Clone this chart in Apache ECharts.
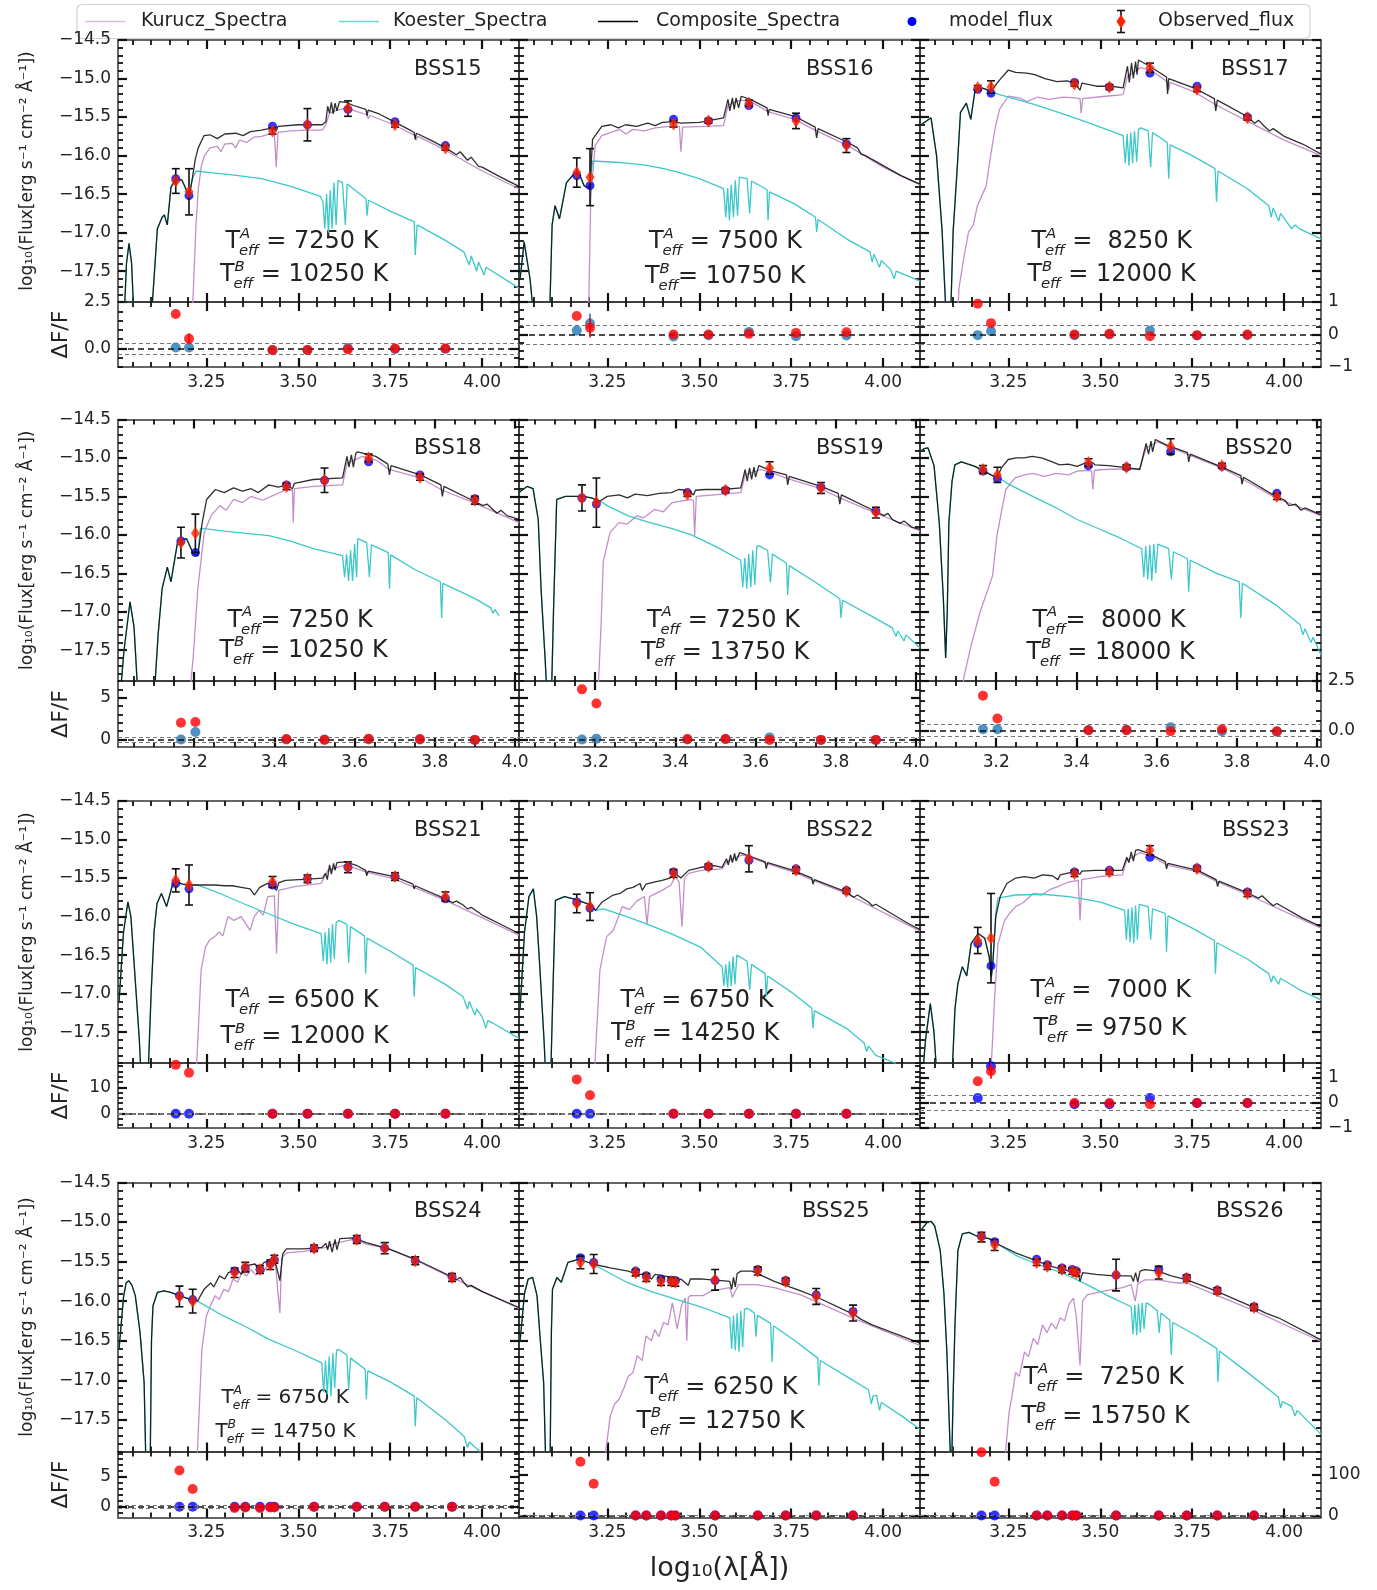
<!DOCTYPE html>
<html><head><meta charset="utf-8">
<script src="https://cdn.jsdelivr.net/npm/echarts@6/dist/echarts.min.js"></script>
<style>html,body{margin:0;padding:0;background:#fff}#c{width:1377px;height:1590px}</style>
</head><body><div id="c"></div>
<script>
// ---------------- DATA ----------------
const starNames = ['BSS15','BSS16','BSS17','BSS18','BSS19','BSS20','BSS21','BSS22','BSS23','BSS24','BSS25','BSS26'];
const teffAText = [' = 7250 K',' = 7500 K',' =  8250 K','= 7250 K',' = 7250 K','=  8000 K',' = 6500 K',' = 6750 K',' =  7000 K',' = 6750 K',' = 6250 K',' =  7250 K'];
const teffBText = [' = 10250 K','= 10750 K',' = 12000 K',' = 10250 K',' = 13750 K',' = 18000 K',' = 12000 K',' = 14250 K',' = 9750 K',' = 14750 K',' = 12750 K',' = 15750 K'];
const legendNames = ['Kurucz_Spectra','Koester_Spectra','Composite_Spectra','model_flux','Observed_flux'];

const filtA = [3.167,3.203,3.43,3.525,3.635,3.763,3.9];
const filtB = [3.177,3.213,3.327,3.356,3.396,3.424,3.435,3.543,3.659,3.735,3.818,3.918];

const xMajorA = [3.25,3.5,3.75,4.0];
const xMajorB = [3.2,3.4,3.6,3.8,4.0];
const yMajorMain = [-17.5,-17.0,-16.5,-16.0,-15.5,-15.0,-14.5];

const residRange = [[-1,2.5],[-1,1],[-1,1],[-0.9,7],[-0.9,7],[-0.85,2.5],[-5.4,19.2],[-5.4,19.2],[-1,1.6],[-1.8,9.3],[-5,157],[-5,157]];
const residMajor = [[0,2.5],[-1,0,1],[-1,0,1],[0,5],[0,5],[0,2.5],[0,10],[0,10],[-1,0,1],[0,5],[0,100],[0,100]];
const residMinorStep = [0.5,0.25,0.25,1,1,0.5,2,2,0.2,1,20,20];
const residDecimals = [1,0,0,0,0,1,0,0,0,0,0,0];
const refLevels = [0, 0.3, -0.3];

// ---- BSS15
const uv15 = [[3.025,-18.3],[3.033,-17.4],[3.04,-17.14],[3.047,-17.4],[3.055,-18.3],[3.098,-18.3],[3.117,-16.95],[3.13,-16.8],[3.136,-16.77],[3.144,-16.9],[3.154,-16.41],[3.168,-16.3],[3.184,-16.32],[3.196,-16.45],[3.204,-16.52],[3.212,-16.3]];
const kur15 = [[3.21,-18.3],[3.222,-16.9],[3.228,-16.45],[3.236,-16.15],[3.245,-16.0],[3.26,-15.9],[3.28,-15.88],[3.29,-15.95],[3.30,-15.85],[3.32,-15.84],[3.33,-15.9],[3.34,-15.8],[3.36,-15.83],[3.38,-15.76],[3.40,-15.75],[3.42,-15.72],[3.435,-15.7],[3.44,-16.15],[3.445,-15.7],[3.48,-15.68],[3.52,-15.67],[3.565,-15.67],[3.575,-15.6],[3.585,-15.45],[3.60,-15.42],[3.63,-15.38],[3.66,-15.43],[3.687,-15.47],[3.69,-15.52],[3.695,-15.48],[3.76,-15.6],[3.817,-15.74],[3.82,-15.8],[3.825,-15.75],[3.9,-15.93],[4.0,-16.2],[4.1,-16.43]];
const koe15 = uv15.concat([[3.222,-16.2],[3.26,-16.22],[3.32,-16.25],[3.40,-16.3],[3.48,-16.4],[3.56,-16.53],[3.567,-16.6],[3.572,-16.95],[3.577,-16.5],[3.582,-17.0],[3.587,-16.45],[3.592,-16.95],[3.597,-16.35],[3.603,-16.9],[3.608,-16.32],[3.62,-16.35],[3.628,-16.9],[3.633,-16.37],[3.66,-16.47],[3.684,-16.56],[3.687,-16.78],[3.691,-16.58],[3.75,-16.72],[3.815,-16.86],[3.818,-17.29],[3.823,-16.9],[3.9,-17.1],[3.95,-17.25],[3.965,-17.42],[3.97,-17.3],[3.985,-17.5],[3.99,-17.38],[4.005,-17.55],[4.01,-17.45],[4.1,-17.72]]);
const comp15 = uv15.concat([[3.22,-16.05],[3.228,-15.9],[3.244,-15.74],[3.26,-15.73],[3.28,-15.78],[3.30,-15.72],[3.33,-15.71],[3.35,-15.74],[3.37,-15.69],[3.40,-15.67],[3.43,-15.64],[3.44,-15.68],[3.445,-15.62],[3.50,-15.6],[3.565,-15.6],[3.575,-15.56],[3.58,-15.36],[3.585,-15.45],[3.59,-15.31],[3.595,-15.46],[3.60,-15.32],[3.605,-15.42],[3.612,-15.3],[3.63,-15.31],[3.65,-15.35],[3.684,-15.4],[3.687,-15.48],[3.69,-15.41],[3.72,-15.46],[3.76,-15.56],[3.80,-15.66],[3.815,-15.7],[3.818,-15.79],[3.821,-15.71],[3.86,-15.8],[3.9,-15.9],[3.93,-15.99],[3.94,-15.95],[3.96,-16.06],[3.97,-16.02],[3.99,-16.14],[4.0,-16.15],[4.05,-16.28],[4.1,-16.4]]);
const obs15 = [-16.33,-16.47,-15.68,-15.6,-15.39,-15.6,-15.9];
const err15 = [0.16,0.3,0.04,0.21,0.1,0.03,0.03];
const mod15 = [-16.3,-16.52,-15.62,-15.6,-15.4,-15.56,-15.87];
const res15 = [1.85,0.52,-0.08,-0.08,-0.05,0,0];
const resm15 = [0.05,0.05,-0.1,-0.08,0.02,-0.03,-0.02];
const rerr15 = [0,0.3,0,0,0,0,0];
const rerrm15 = [0,0,0,0,0,0,0];

// ---- BSS16
const uv16 = [[3.013,-17.6],[3.024,-17.12],[3.04,-17.6],[3.054,-18.3],[3.092,-18.3],[3.1,-16.9],[3.108,-16.65],[3.12,-16.82],[3.139,-16.35],[3.163,-16.22],[3.175,-16.25],[3.187,-16.39],[3.197,-16.42],[3.203,-16.38]];
const kur16 = [[3.198,-18.3],[3.205,-16.56],[3.217,-15.87],[3.235,-15.74],[3.26,-15.7],[3.284,-15.66],[3.30,-15.72],[3.32,-15.66],[3.35,-15.68],[3.38,-15.64],[3.42,-15.62],[3.446,-15.62],[3.45,-15.95],[3.455,-15.63],[3.518,-15.62],[3.566,-15.61],[3.578,-15.35],[3.60,-15.3],[3.614,-15.28],[3.64,-15.3],[3.687,-15.43],[3.759,-15.53],[3.819,-15.68],[3.904,-15.87],[4.0,-16.15],[4.1,-16.38]];
const koe16 = uv16.concat([[3.21,-16.07],[3.284,-16.09],[3.35,-16.12],[3.404,-16.17],[3.446,-16.22],[3.50,-16.3],[3.566,-16.43],[3.572,-16.8],[3.577,-16.42],[3.582,-16.84],[3.587,-16.38],[3.593,-16.8],[3.598,-16.32],[3.604,-16.78],[3.609,-16.28],[3.614,-16.26],[3.63,-16.3],[3.637,-16.75],[3.642,-16.33],[3.684,-16.44],[3.687,-16.84],[3.691,-16.47],[3.76,-16.63],[3.816,-16.8],[3.819,-16.99],[3.823,-16.83],[3.90,-17.08],[3.964,-17.25],[3.97,-17.38],[3.975,-17.28],[3.99,-17.45],[3.995,-17.36],[4.02,-17.48],[4.03,-17.6],[4.035,-17.5],[4.1,-17.63]]);
const comp16 = uv16.concat([[3.21,-15.79],[3.235,-15.62],[3.26,-15.6],[3.28,-15.64],[3.30,-15.6],[3.33,-15.62],[3.36,-15.58],[3.38,-15.61],[3.40,-15.57],[3.43,-15.56],[3.45,-15.58],[3.50,-15.57],[3.566,-15.51],[3.578,-15.27],[3.583,-15.42],[3.59,-15.25],[3.595,-15.4],[3.60,-15.25],[3.607,-15.38],[3.614,-15.23],[3.639,-15.27],[3.684,-15.38],[3.687,-15.48],[3.69,-15.4],[3.759,-15.49],[3.815,-15.63],[3.819,-15.77],[3.823,-15.65],[3.904,-15.83],[3.93,-15.9],[3.94,-15.98],[3.952,-16.0],[3.97,-16.05],[4.0,-16.13],[4.048,-16.26],[4.1,-16.37]]);
const obs16 = [-16.22,-16.28,-15.59,-15.55,-15.32,-15.55,-15.87];
const err16 = [0.19,0.37,0.04,0.03,0.04,0.1,0.09];
const mod16 = [-16.26,-16.39,-15.53,-15.55,-15.35,-15.51,-15.85];
const res16 = [0.57,0.21,0,0,0.02,0.05,0.07];
const resm16 = [0.12,0.34,-0.06,-0.02,0.08,-0.05,-0.03];
const rerr16 = [0,0.3,0,0,0,0,0];
const rerrm16 = [0,0.3,0,0,0,0,0];

// ---- BSS17
const uv17 = [[3.013,-15.6],[3.04,-15.51],[3.055,-16.0],[3.07,-16.97],[3.083,-18.3],[3.092,-18.3],[3.1,-16.99],[3.112,-16.1],[3.12,-15.44],[3.136,-15.32],[3.148,-15.53],[3.16,-15.14],[3.178,-15.12],[3.19,-15.14],[3.202,-15.17]];
const kur17 = [[3.11,-18.3],[3.116,-17.72],[3.13,-17.3],[3.142,-16.99],[3.155,-16.9],[3.166,-16.65],[3.18,-16.5],[3.19,-16.39],[3.202,-16.0],[3.214,-15.65],[3.226,-15.4],[3.25,-15.23],[3.28,-15.25],[3.30,-15.3],[3.33,-15.24],[3.36,-15.27],[3.40,-15.24],[3.43,-15.25],[3.445,-15.26],[3.448,-15.45],[3.452,-15.26],[3.514,-15.23],[3.562,-15.21],[3.574,-14.97],[3.61,-14.86],[3.64,-14.9],[3.682,-15.04],[3.686,-15.15],[3.69,-15.05],[3.754,-15.17],[3.814,-15.34],[3.898,-15.55],[4.0,-15.8],[4.1,-16.0]];
const koe17 = uv17.concat([[3.226,-15.21],[3.28,-15.28],[3.322,-15.34],[3.38,-15.43],[3.442,-15.53],[3.50,-15.63],[3.562,-15.74],[3.568,-16.1],[3.573,-15.72],[3.578,-16.13],[3.583,-15.7],[3.588,-16.1],[3.593,-15.68],[3.599,-16.08],[3.604,-15.66],[3.61,-15.64],[3.63,-15.68],[3.637,-16.15],[3.642,-15.7],[3.682,-15.83],[3.686,-16.3],[3.69,-15.86],[3.75,-16.0],[3.812,-16.17],[3.816,-16.6],[3.82,-16.2],[3.9,-16.43],[3.958,-16.65],[3.965,-16.8],[3.97,-16.68],[3.985,-16.85],[3.99,-16.75],[4.01,-16.88],[4.02,-16.95],[4.03,-16.9],[4.042,-16.95],[4.1,-17.08]]);
const comp17 = uv17.concat([[3.213,-15.1],[3.226,-15.02],[3.25,-14.89],[3.27,-14.92],[3.30,-14.93],[3.322,-14.95],[3.35,-15.0],[3.382,-15.04],[3.41,-15.03],[3.43,-15.06],[3.445,-15.15],[3.45,-15.06],[3.49,-15.1],[3.53,-15.1],[3.562,-15.12],[3.574,-14.84],[3.579,-15.05],[3.585,-14.8],[3.59,-15.0],[3.596,-14.78],[3.60,-14.95],[3.604,-14.76],[3.634,-14.84],[3.68,-14.98],[3.683,-15.2],[3.686,-15.0],[3.754,-15.12],[3.81,-15.26],[3.814,-15.42],[3.818,-15.28],[3.898,-15.49],[3.92,-15.58],[3.93,-15.54],[3.946,-15.62],[3.96,-15.68],[3.97,-15.65],[4.0,-15.75],[4.05,-15.85],[4.1,-15.98]]);
const obs17 = [-15.12,-15.11,-15.07,-15.11,-14.86,-15.14,-15.51];
const err17 = [0.03,0.08,0.03,0.03,0.06,0.03,0.03];
const mod17 = [-15.14,-15.19,-15.05,-15.11,-14.93,-15.1,-15.5];
const res17 = [0.95,0.35,0,0.02,-0.05,-0.02,0];
const resm17 = [-0.02,0.1,-0.02,0,0.12,-0.03,-0.02];

// ---- BSS18
const uv18 = [[3.012,-18.3],[3.025,-17.5],[3.04,-16.87],[3.05,-17.2],[3.062,-18.3],[3.098,-18.3],[3.11,-17.3],[3.12,-16.7],[3.133,-16.42],[3.142,-16.61],[3.159,-16.08],[3.181,-16.05],[3.198,-16.25],[3.209,-16.27]];
const kur18 = [[3.185,-18.3],[3.198,-17.56],[3.209,-16.7],[3.225,-15.97],[3.242,-15.75],[3.264,-15.62],[3.28,-15.68],[3.298,-15.54],[3.32,-15.58],[3.342,-15.5],[3.37,-15.55],[3.40,-15.48],[3.431,-15.41],[3.445,-15.42],[3.447,-15.84],[3.45,-15.4],[3.497,-15.37],[3.57,-15.35],[3.581,-15.07],[3.62,-14.98],[3.655,-15.03],[3.686,-15.15],[3.764,-15.26],[3.819,-15.42],[3.897,-15.58],[4.01,-15.84]];
const koe18 = uv18.concat([[3.215,-15.92],[3.225,-15.92],[3.275,-15.95],[3.33,-15.98],[3.386,-16.01],[3.44,-16.08],[3.497,-16.18],[3.57,-16.27],[3.575,-16.55],[3.58,-16.25],[3.585,-16.6],[3.59,-16.2],[3.595,-16.6],[3.60,-16.12],[3.605,-16.55],[3.608,-16.05],[3.63,-16.1],[3.637,-16.55],[3.642,-16.13],[3.684,-16.23],[3.687,-16.7],[3.69,-16.26],[3.75,-16.45],[3.814,-16.61],[3.817,-17.08],[3.82,-16.63],[3.897,-16.82],[3.94,-16.95],[3.945,-17.02],[3.95,-16.97],[3.96,-17.05]]);
const comp18 = uv18.concat([[3.22,-15.84],[3.231,-15.54],[3.253,-15.41],[3.275,-15.45],[3.298,-15.39],[3.32,-15.43],[3.342,-15.4],[3.36,-15.45],[3.386,-15.35],[3.41,-15.38],[3.431,-15.35],[3.445,-15.4],[3.45,-15.33],[3.497,-15.28],[3.57,-15.26],[3.581,-14.98],[3.586,-15.12],[3.592,-14.96],[3.597,-15.12],[3.603,-14.94],[3.608,-14.92],[3.653,-14.98],[3.683,-15.08],[3.687,-15.22],[3.691,-15.1],[3.764,-15.22],[3.815,-15.35],[3.819,-15.5],[3.823,-15.37],[3.897,-15.56],[3.92,-15.62],[3.93,-15.6],[3.941,-15.65],[3.955,-15.72],[3.965,-15.68],[3.98,-15.75],[4.01,-15.8]]);
const obs18 = [-16.1,-15.98,-15.37,-15.29,-15.0,-15.25,-15.55];
const err18 = [0.2,0.25,0.04,0.16,0.05,0.04,0.05];
const mod18 = [-16.08,-16.23,-15.35,-15.29,-15.05,-15.22,-15.53];
const res18 = [2.0,2.1,0.05,-0.05,0.1,0.05,-0.05];
const resm18 = [0,0.9,0,0,0,0,-0.05];

// ---- BSS19
const uv19 = [[3.01,-15.45],[3.03,-15.37],[3.045,-15.4],[3.058,-15.8],[3.065,-16.7],[3.075,-17.6],[3.082,-18.3],[3.09,-18.3],[3.096,-17.0],[3.104,-15.54],[3.126,-15.5],[3.17,-15.5],[3.19,-15.52],[3.212,-15.56]];
const kur19 = [[3.205,-18.3],[3.215,-17.13],[3.22,-16.35],[3.237,-15.97],[3.259,-15.84],[3.28,-15.86],[3.304,-15.75],[3.32,-15.78],[3.348,-15.67],[3.37,-15.7],[3.392,-15.58],[3.437,-15.54],[3.445,-15.55],[3.448,-16.01],[3.452,-15.5],[3.519,-15.47],[3.563,-15.45],[3.574,-15.22],[3.613,-15.15],[3.645,-15.2],[3.68,-15.27],[3.763,-15.4],[3.81,-15.52],[3.897,-15.71],[4.01,-15.95]];
const koe19 = uv19.concat([[3.23,-15.62],[3.281,-15.75],[3.33,-15.83],[3.392,-15.92],[3.44,-16.0],[3.50,-16.15],[3.563,-16.33],[3.568,-16.68],[3.573,-16.3],[3.578,-16.7],[3.583,-16.25],[3.588,-16.68],[3.593,-16.2],[3.598,-16.65],[3.603,-16.15],[3.608,-16.14],[3.63,-16.2],[3.637,-16.62],[3.642,-16.25],[3.677,-16.37],[3.68,-16.78],[3.684,-16.4],[3.75,-16.62],[3.81,-16.83],[3.813,-17.08],[3.817,-16.85],[3.897,-17.08],[3.941,-17.21],[3.95,-17.32],[3.955,-17.25],[3.97,-17.38],[3.975,-17.3],[4.01,-17.47]]);
const comp19 = uv19.concat([[3.23,-15.5],[3.26,-15.48],[3.28,-15.52],[3.30,-15.47],[3.33,-15.49],[3.36,-15.46],[3.39,-15.45],[3.408,-15.41],[3.43,-15.42],[3.445,-15.48],[3.45,-15.42],[3.474,-15.41],[3.519,-15.41],[3.563,-15.39],[3.574,-15.15],[3.579,-15.3],[3.585,-15.13],[3.59,-15.28],[3.596,-15.12],[3.60,-15.25],[3.608,-15.1],[3.641,-15.17],[3.677,-15.22],[3.68,-15.35],[3.684,-15.24],[3.763,-15.37],[3.806,-15.46],[3.81,-15.6],[3.814,-15.48],[3.897,-15.69],[3.92,-15.75],[3.93,-15.72],[3.941,-15.8],[3.96,-15.85],[3.97,-15.82],[3.99,-15.9],[4.01,-15.93]]);
const obs19 = [-15.52,-15.58,-15.47,-15.42,-15.13,-15.39,-15.71];
const err19 = [0.17,0.32,0.03,0.03,0.08,0.07,0.07];
const mod19 = [-15.52,-15.6,-15.45,-15.42,-15.22,-15.38,-15.69];
const res19 = [6.0,4.3,0.05,0.05,-0.05,-0.05,-0.05];
const resm19 = [0,0.1,0,0.05,0.25,-0.05,-0.05];

// ---- BSS20
const uv20 = [[3.01,-14.92],[3.02,-14.88],[3.03,-14.87],[3.045,-15.1],[3.058,-15.84],[3.068,-16.8],[3.074,-17.6],[3.078,-17.0],[3.082,-15.84],[3.09,-15.3],[3.097,-15.09],[3.113,-15.05],[3.147,-15.11],[3.18,-15.2],[3.202,-15.26]];
const kur20 = [[3.115,-18.3],[3.119,-17.86],[3.136,-17.47],[3.16,-17.0],[3.18,-16.7],[3.191,-16.53],[3.202,-16.01],[3.213,-15.7],[3.224,-15.41],[3.247,-15.26],[3.27,-15.22],[3.291,-15.2],[3.32,-15.24],[3.35,-15.2],[3.38,-15.22],[3.402,-15.17],[3.43,-15.16],[3.438,-15.17],[3.441,-15.41],[3.445,-15.16],[3.469,-15.15],[3.558,-15.14],[3.574,-14.87],[3.602,-14.79],[3.63,-14.85],[3.68,-14.96],[3.763,-15.13],[3.813,-15.27],[3.897,-15.52],[4.01,-15.75]];
const koe20 = uv20.concat([[3.213,-15.28],[3.224,-15.32],[3.291,-15.5],[3.35,-15.65],[3.402,-15.8],[3.46,-15.93],[3.513,-16.05],[3.563,-16.18],[3.568,-16.55],[3.573,-16.15],[3.578,-16.58],[3.583,-16.13],[3.588,-16.6],[3.593,-16.12],[3.598,-16.5],[3.603,-16.12],[3.63,-16.18],[3.637,-16.58],[3.642,-16.22],[3.677,-16.31],[3.68,-16.74],[3.684,-16.33],[3.75,-16.5],[3.806,-16.61],[3.81,-17.08],[3.814,-16.63],[3.897,-16.91],[3.958,-17.17],[3.965,-17.3],[3.97,-17.22],[3.985,-17.4],[3.99,-17.33],[4.01,-17.56]]);
const comp20 = uv20.concat([[3.213,-15.13],[3.23,-15.02],[3.25,-15.0],[3.269,-15.0],[3.29,-14.98],[3.313,-15.0],[3.34,-15.05],[3.358,-15.09],[3.38,-15.08],[3.402,-15.11],[3.42,-15.07],[3.44,-15.06],[3.447,-15.09],[3.48,-15.1],[3.513,-15.12],[3.558,-15.15],[3.574,-14.81],[3.58,-14.95],[3.586,-14.78],[3.59,-14.92],[3.597,-14.76],[3.624,-14.83],[3.677,-14.93],[3.68,-15.05],[3.684,-14.95],[3.763,-15.12],[3.81,-15.23],[3.813,-15.34],[3.817,-15.25],[3.897,-15.5],[3.92,-15.55],[3.93,-15.62],[3.947,-15.6],[3.96,-15.68],[3.97,-15.65],[4.01,-15.74]]);
const obs20 = [-15.15,-15.22,-15.06,-15.12,-14.85,-15.1,-15.5];
const err20 = [0.05,0.1,0.05,0.03,0.1,0.03,0.04];
const mod20 = [-15.17,-15.27,-15.1,-15.12,-14.92,-15.11,-15.46];
const res20 = [1.75,0.6,0,0,-0.05,0.05,-0.05];
const resm20 = [0.05,0.05,0,0.02,0.15,-0.05,-0.08];

// ---- BSS21
const uv21 = [[3.013,-17.1],[3.025,-16.2],[3.037,-15.81],[3.045,-16.0],[3.055,-16.69],[3.068,-17.6],[3.075,-18.3],[3.09,-18.3],[3.1,-17.0],[3.108,-16.2],[3.116,-15.83],[3.128,-15.7],[3.142,-15.87],[3.158,-15.59],[3.17,-15.55],[3.185,-15.58],[3.206,-15.59],[3.224,-15.59]];
const kur21 = [[3.22,-18.3],[3.236,-16.69],[3.248,-16.39],[3.26,-16.3],[3.273,-16.26],[3.285,-16.2],[3.295,-16.25],[3.309,-16.0],[3.325,-16.05],[3.345,-16.0],[3.369,-16.18],[3.38,-16.0],[3.393,-15.92],[3.405,-15.98],[3.417,-15.74],[3.435,-15.73],[3.441,-16.48],[3.447,-15.66],[3.49,-15.61],[3.562,-15.57],[3.58,-15.4],[3.628,-15.33],[3.683,-15.42],[3.761,-15.51],[3.815,-15.62],[3.9,-15.79],[4.1,-16.24]];
const koe21 = uv21.concat([[3.25,-15.63],[3.297,-15.72],[3.35,-15.83],[3.417,-15.96],[3.49,-16.1],[3.562,-16.22],[3.568,-16.58],[3.573,-16.2],[3.578,-16.62],[3.583,-16.15],[3.588,-16.6],[3.593,-16.1],[3.598,-16.55],[3.603,-16.08],[3.61,-16.05],[3.632,-16.1],[3.637,-16.6],[3.642,-16.13],[3.68,-16.25],[3.683,-16.74],[3.687,-16.28],[3.75,-16.45],[3.812,-16.63],[3.815,-17.04],[3.819,-16.66],[3.9,-16.88],[3.948,-17.04],[3.96,-17.2],[3.965,-17.1],[3.98,-17.28],[3.985,-17.2],[4.0,-17.3],[4.01,-17.45],[4.015,-17.35],[4.032,-17.39],[4.1,-17.58]]);
const comp21 = uv21.concat([[3.25,-15.59],[3.273,-15.59],[3.30,-15.6],[3.321,-15.6],[3.345,-15.62],[3.369,-15.64],[3.381,-15.72],[3.395,-15.62],[3.417,-15.57],[3.43,-15.6],[3.441,-15.66],[3.447,-15.56],[3.466,-15.53],[3.538,-15.51],[3.566,-15.5],[3.574,-15.44],[3.579,-15.52],[3.585,-15.33],[3.59,-15.45],[3.596,-15.31],[3.60,-15.4],[3.605,-15.3],[3.628,-15.29],[3.66,-15.34],[3.683,-15.4],[3.686,-15.47],[3.69,-15.41],[3.761,-15.48],[3.812,-15.58],[3.815,-15.64],[3.818,-15.6],[3.9,-15.77],[3.92,-15.82],[3.93,-15.8],[3.948,-15.85],[3.96,-15.9],[3.97,-15.88],[4.0,-15.98],[4.05,-16.1],[4.1,-16.22]]);
const obs21 = [-15.53,-15.59,-15.55,-15.51,-15.36,-15.48,-15.74];
const err21 = [0.15,0.26,0.07,0.05,0.07,0.05,0.06];
const mod21 = [-15.57,-15.64,-15.59,-15.51,-15.36,-15.48,-15.77];
const res21 = [18.5,15.5,0,0,0,0,0];
const resm21 = [0,0,0,0,0,0,0];

// ---- BSS22
const uv22 = [[3.013,-17.2],[3.025,-16.2],[3.037,-15.74],[3.049,-15.64],[3.058,-16.0],[3.067,-16.69],[3.078,-17.6],[3.085,-18.3],[3.095,-18.3],[3.102,-17.0],[3.109,-15.79],[3.134,-15.74],[3.158,-15.77],[3.182,-15.81],[3.206,-15.85],[3.218,-15.92]];
const kur22 = [[3.212,-18.3],[3.23,-16.69],[3.248,-16.26],[3.266,-16.18],[3.291,-15.87],[3.31,-15.91],[3.33,-15.8],[3.351,-15.74],[3.358,-16.1],[3.365,-15.74],[3.399,-15.66],[3.423,-15.59],[3.435,-15.48],[3.445,-15.55],[3.453,-16.13],[3.46,-15.5],[3.471,-15.44],[3.505,-15.4],[3.562,-15.38],[3.574,-15.29],[3.616,-15.2],[3.65,-15.25],[3.682,-15.31],[3.755,-15.42],[3.81,-15.53],[3.899,-15.7],[4.068,-16.11],[4.1,-16.19]];
const koe22 = uv22.concat([[3.24,-15.9],[3.303,-16.0],[3.36,-16.1],[3.423,-16.22],[3.505,-16.4],[3.562,-16.65],[3.567,-16.9],[3.572,-16.62],[3.577,-16.92],[3.582,-16.58],[3.587,-16.9],[3.592,-16.52],[3.597,-16.88],[3.602,-16.5],[3.63,-16.58],[3.637,-16.95],[3.642,-16.62],[3.679,-16.74],[3.682,-17.04],[3.686,-16.77],[3.75,-16.98],[3.806,-17.19],[3.809,-17.45],[3.813,-17.22],[3.9,-17.45],[3.948,-17.64],[3.955,-17.75],[3.96,-17.68],[3.98,-17.8],[4.032,-17.9],[4.06,-18.3]]);
const comp22 = uv22.concat([[3.236,-15.81],[3.266,-15.72],[3.285,-15.7],[3.303,-15.64],[3.32,-15.62],[3.339,-15.57],[3.345,-15.66],[3.355,-15.58],[3.38,-15.55],[3.399,-15.53],[3.42,-15.5],[3.435,-15.44],[3.45,-15.5],[3.471,-15.4],[3.505,-15.36],[3.541,-15.34],[3.562,-15.36],[3.574,-15.25],[3.579,-15.33],[3.585,-15.2],[3.59,-15.3],[3.596,-15.18],[3.60,-15.28],[3.61,-15.17],[3.646,-15.23],[3.679,-15.29],[3.682,-15.38],[3.686,-15.3],[3.755,-15.4],[3.806,-15.5],[3.809,-15.58],[3.813,-15.52],[3.899,-15.68],[3.92,-15.75],[3.93,-15.72],[3.96,-15.81],[3.97,-15.86],[3.98,-15.84],[4.068,-16.09],[4.1,-16.17]]);
const obs22 = [-15.83,-15.87,-15.44,-15.35,-15.25,-15.4,-15.67];
const err22 = [0.12,0.18,0.05,0.03,0.17,0.04,0.03];
const mod22 = [-15.81,-15.89,-15.42,-15.35,-15.27,-15.38,-15.66];
const res22 = [13,7,0,0,0,0,0];
const resm22 = [0,0,0,0,0,0,0];

// ---- BSS23
const uv23 = [[3.013,-18.3],[3.025,-17.6],[3.038,-17.13],[3.048,-17.5],[3.059,-18.3],[3.095,-18.3],[3.105,-17.2],[3.113,-16.87],[3.125,-16.65],[3.137,-16.77],[3.149,-16.35],[3.168,-16.22],[3.186,-16.28],[3.198,-16.52],[3.204,-16.78],[3.208,-16.6]];
const kur23 = [[3.2,-18.3],[3.212,-17.13],[3.222,-16.35],[3.24,-16.05],[3.255,-15.95],[3.27,-15.87],[3.29,-15.82],[3.318,-15.7],[3.34,-15.72],[3.367,-15.64],[3.39,-15.6],[3.415,-15.55],[3.44,-15.53],[3.445,-16.05],[3.45,-15.52],[3.499,-15.48],[3.56,-15.46],[3.572,-15.27],[3.608,-15.17],[3.64,-15.22],[3.68,-15.33],[3.765,-15.42],[3.819,-15.55],[3.903,-15.72],[4.1,-16.15]];
const koe23 = uv23.concat([[3.216,-15.95],[3.222,-15.76],[3.27,-15.72],[3.343,-15.71],[3.415,-15.74],[3.499,-15.81],[3.566,-15.92],[3.571,-16.3],[3.576,-15.9],[3.581,-16.33],[3.586,-15.88],[3.591,-16.35],[3.596,-15.86],[3.601,-16.3],[3.606,-15.84],[3.608,-15.83],[3.63,-15.87],[3.637,-16.3],[3.642,-15.9],[3.677,-15.96],[3.68,-16.46],[3.684,-15.99],[3.75,-16.15],[3.81,-16.31],[3.813,-16.74],[3.817,-16.34],[3.9,-16.55],[3.958,-16.74],[3.965,-16.85],[3.97,-16.77],[3.985,-16.88],[3.99,-16.8],[4.042,-16.95],[4.1,-17.08]]);
const comp23 = uv23.concat([[3.216,-16.0],[3.228,-15.74],[3.246,-15.57],[3.27,-15.5],[3.294,-15.48],[3.32,-15.5],[3.343,-15.46],[3.37,-15.47],[3.385,-15.52],[3.391,-15.46],[3.427,-15.42],[3.445,-15.45],[3.45,-15.41],[3.487,-15.4],[3.56,-15.4],[3.572,-15.23],[3.578,-15.3],[3.584,-15.16],[3.59,-15.28],[3.596,-15.14],[3.602,-15.13],[3.632,-15.18],[3.677,-15.29],[3.68,-15.38],[3.684,-15.31],[3.765,-15.4],[3.815,-15.52],[3.819,-15.61],[3.823,-15.54],[3.903,-15.7],[3.93,-15.76],[3.94,-15.73],[3.958,-15.81],[3.97,-15.86],[3.98,-15.83],[4.05,-16.02],[4.1,-16.13]]);
const obs23 = [-16.31,-16.28,-15.44,-15.42,-15.14,-15.38,-15.7];
const err23 = [0.17,0.58,0.04,0.03,0.06,0.03,0.04];
const mod23 = [-16.35,-16.64,-15.42,-15.4,-15.23,-15.37,-15.68];
const res23 = [0.87,1.27,0,0,-0.05,0,0];
const resm23 = [0.2,1.47,-0.05,-0.05,0.2,0,0];
const rerr23 = [0,0.3,0,0,0,0,0];

// ---- BSS24
const uv24 = [[3.013,-16.6],[3.025,-15.95],[3.032,-15.77],[3.039,-15.74],[3.048,-15.8],[3.057,-15.93],[3.07,-16.4],[3.081,-17.03],[3.087,-18.3],[3.097,-18.3],[3.101,-16.5],[3.105,-16.06],[3.117,-15.89],[3.135,-15.87],[3.153,-15.89],[3.177,-15.93],[3.202,-15.97],[3.226,-16.0]];
const kur24 = [[3.222,-18.3],[3.238,-16.61],[3.25,-16.19],[3.262,-16.05],[3.274,-15.93],[3.285,-15.98],[3.298,-15.85],[3.31,-15.88],[3.323,-15.72],[3.335,-15.76],[3.347,-15.64],[3.36,-15.68],[3.371,-15.6],[3.385,-15.67],[3.395,-15.6],[3.405,-15.64],[3.419,-15.51],[3.437,-15.47],[3.443,-15.8],[3.45,-16.15],[3.455,-15.45],[3.468,-15.39],[3.516,-15.37],[3.576,-15.32],[3.6,-15.27],[3.649,-15.22],[3.685,-15.28],[3.746,-15.34],[3.818,-15.48],[3.903,-15.67],[4.1,-16.09]];
const koe24 = uv24.concat([[3.298,-16.19],[3.36,-16.33],[3.419,-16.48],[3.49,-16.62],[3.564,-16.78],[3.569,-17.15],[3.574,-16.75],[3.579,-17.18],[3.584,-16.7],[3.589,-17.2],[3.594,-16.66],[3.599,-17.1],[3.604,-16.62],[3.61,-16.61],[3.632,-16.68],[3.637,-17.12],[3.642,-16.72],[3.682,-16.86],[3.685,-17.24],[3.689,-16.88],[3.75,-17.02],[3.815,-17.2],[3.818,-17.58],[3.822,-17.22],[3.9,-17.5],[3.951,-17.71],[3.96,-17.85],[3.965,-17.78],[3.994,-17.9],[4.02,-18.3]]);
const comp24 = uv24.concat([[3.244,-15.85],[3.262,-15.77],[3.27,-15.82],[3.286,-15.68],[3.30,-15.72],[3.31,-15.64],[3.335,-15.6],[3.345,-15.66],[3.359,-15.55],[3.383,-15.53],[3.39,-15.6],[3.407,-15.51],[3.431,-15.47],[3.44,-15.55],[3.45,-15.74],[3.458,-15.4],[3.468,-15.34],[3.516,-15.34],[3.564,-15.32],[3.575,-15.27],[3.58,-15.35],[3.585,-15.24],[3.592,-15.38],[3.60,-15.22],[3.605,-15.35],[3.613,-15.21],[3.649,-15.2],[3.685,-15.26],[3.746,-15.34],[3.818,-15.47],[3.903,-15.66],[3.93,-15.73],[3.94,-15.7],[3.951,-15.77],[3.96,-15.82],[3.97,-15.8],[4.0,-15.88],[4.1,-16.08]]);
const obs24 = [-15.94,-16.0,-15.64,-15.57,-15.6,-15.54,-15.47,-15.33,-15.22,-15.33,-15.49,-15.7];
const err24 = [0.13,0.15,0.06,0.06,0.05,0.06,0.05,0.04,0.05,0.07,0.05,0.05];
const mod24 = [-15.93,-15.98,-15.62,-15.58,-15.6,-15.52,-15.48,-15.33,-15.22,-15.33,-15.49,-15.69];
const res24 = [6.1,3.0,-0.2,-0.1,-0.2,-0.1,-0.1,0,0,0,0,0];
const resm24 = [0,0,0,0,0,0,0,0,0,0,0,0];

// ---- BSS25
const uv25 = [[3.013,-16.5],[3.025,-15.9],[3.035,-15.72],[3.047,-15.7],[3.059,-15.93],[3.068,-16.5],[3.077,-17.03],[3.084,-18.3],[3.094,-18.3],[3.098,-16.4],[3.101,-15.85],[3.113,-15.7],[3.125,-15.76],[3.143,-15.51],[3.174,-15.47],[3.21,-15.53]];
const kur25 = [[3.235,-18.3],[3.258,-17.45],[3.27,-17.3],[3.282,-17.24],[3.295,-17.1],[3.307,-16.95],[3.32,-16.9],[3.331,-16.69],[3.345,-16.75],[3.355,-16.44],[3.37,-16.5],[3.379,-16.36],[3.39,-16.45],[3.403,-16.27],[3.415,-16.3],[3.427,-16.02],[3.44,-16.35],[3.452,-16.05],[3.462,-15.96],[3.466,-16.5],[3.47,-15.95],[3.476,-15.93],[3.51,-15.93],[3.534,-15.87],[3.583,-15.83],[3.59,-15.95],[3.607,-15.79],[3.655,-15.79],[3.704,-15.83],[3.776,-15.92],[3.921,-16.22],[4.1,-16.56]];
const koe25 = uv25.concat([[3.258,-15.65],[3.307,-15.77],[3.37,-15.88],[3.427,-15.96],[3.51,-16.08],[3.583,-16.21],[3.588,-16.6],[3.593,-16.18],[3.598,-16.62],[3.603,-16.15],[3.608,-16.64],[3.613,-16.12],[3.618,-16.58],[3.623,-16.1],[3.631,-16.09],[3.65,-16.15],[3.654,-16.45],[3.658,-16.18],[3.694,-16.28],[3.698,-16.77],[3.702,-16.31],[3.76,-16.5],[3.822,-16.72],[3.825,-17.07],[3.829,-16.75],[3.9,-16.95],[3.96,-17.12],[3.968,-17.3],[3.972,-17.2],[3.982,-17.19],[3.99,-17.38],[3.995,-17.28],[4.05,-17.45],[4.1,-17.62]]);
const comp25 = uv25.concat([[3.258,-15.58],[3.307,-15.62],[3.331,-15.66],[3.355,-15.66],[3.37,-15.72],[3.38,-15.66],[3.403,-15.68],[3.427,-15.7],[3.44,-15.75],[3.45,-15.72],[3.47,-15.8],[3.476,-15.72],[3.51,-15.72],[3.534,-15.73],[3.56,-15.74],[3.583,-15.75],[3.588,-15.85],[3.593,-15.7],[3.598,-15.82],[3.603,-15.65],[3.613,-15.62],[3.643,-15.62],[3.704,-15.75],[3.776,-15.87],[3.825,-15.96],[3.921,-16.17],[3.94,-16.23],[3.97,-16.3],[4.1,-16.53]]);
const obs25 = [-15.51,-15.53,-15.64,-15.7,-15.75,-15.75,-15.76,-15.73,-15.62,-15.75,-15.94,-16.15];
const err25 = [0.08,0.12,0.04,0.05,0.05,0.05,0.05,0.13,0.05,0.04,0.1,0.1];
const mod25 = [-15.45,-15.51,-15.62,-15.68,-15.72,-15.74,-15.74,-15.74,-15.6,-15.74,-15.92,-16.13];
const res25 = [132,78,0,0,0,0,0,0,0,0,0,0];
const resm25 = [0,0,0,0,0,0,0,0,0,0,0,0];

// ---- BSS26
const uv26 = [[3.013,-15.1],[3.03,-15.0],[3.04,-14.99],[3.05,-15.05],[3.065,-15.36],[3.075,-15.9],[3.083,-16.64],[3.09,-17.6],[3.095,-18.3],[3.1,-17.2],[3.105,-16.3],[3.113,-15.36],[3.125,-15.15],[3.143,-15.13],[3.161,-15.17],[3.177,-15.19],[3.198,-15.21],[3.222,-15.28]];
const kur26 = [[3.235,-18.3],[3.252,-17.41],[3.26,-17.2],[3.27,-16.9],[3.28,-16.95],[3.294,-16.64],[3.305,-16.7],[3.318,-16.47],[3.33,-16.55],[3.343,-16.3],[3.355,-16.4],[3.367,-16.28],[3.38,-16.35],[3.391,-16.21],[3.403,-16.25],[3.415,-16.04],[3.427,-15.96],[3.435,-16.2],[3.445,-16.81],[3.452,-16.0],[3.464,-15.92],[3.512,-15.87],[3.56,-15.83],[3.584,-15.79],[3.595,-16.0],[3.602,-15.78],[3.621,-15.73],[3.657,-15.73],[3.705,-15.77],[3.736,-15.77],[3.814,-15.92],[3.923,-16.13],[4.1,-16.51]];
const koe26 = uv26.concat([[3.27,-15.42],[3.327,-15.53],[3.4,-15.65],[3.464,-15.79],[3.52,-15.93],[3.584,-16.07],[3.589,-16.42],[3.594,-16.05],[3.599,-16.43],[3.604,-16.03],[3.609,-16.4],[3.614,-16.02],[3.619,-16.35],[3.625,-16.02],[3.633,-16.04],[3.655,-16.12],[3.66,-16.4],[3.665,-16.15],[3.689,-16.24],[3.693,-16.68],[3.697,-16.27],[3.76,-16.43],[3.817,-16.6],[3.82,-17.02],[3.824,-16.63],[3.9,-16.9],[3.984,-17.21],[3.99,-17.35],[3.995,-17.27],[4.02,-17.33],[4.03,-17.45],[4.035,-17.38],[4.1,-17.68]]);
const comp26 = uv26.concat([[3.27,-15.39],[3.327,-15.49],[3.367,-15.56],[3.415,-15.62],[3.439,-15.64],[3.445,-15.75],[3.452,-15.64],[3.488,-15.66],[3.536,-15.68],[3.584,-15.68],[3.59,-15.75],[3.596,-15.64],[3.602,-15.76],[3.608,-15.62],[3.621,-15.6],[3.657,-15.62],[3.693,-15.68],[3.736,-15.73],[3.814,-15.87],[3.923,-16.09],[3.95,-16.15],[3.984,-16.21],[4.1,-16.49]]);
const obs26 = [-15.19,-15.29,-15.51,-15.56,-15.6,-15.62,-15.64,-15.67,-15.64,-15.71,-15.87,-16.08];
const err26 = [0.06,0.07,0.04,0.04,0.04,0.04,0.04,0.2,0.08,0.04,0.04,0.04];
const mod26 = [-15.18,-15.25,-15.47,-15.54,-15.58,-15.6,-15.62,-15.67,-15.6,-15.7,-15.86,-16.07];
const res26 = [155,83,0,0,0,0,0,0,0,0,0,0];
const resm26 = [0,0,0,0,0,0,0,0,0,0,0,0];

// ---------------- LAYOUT ----------------
const COLL = [118, 519, 920], COLW = 401;
const ROWT = [40, 419.5, 801, 1182.5], ROWH = [262, 261.5, 262, 269], RESH = [65, 66, 65, 66];
const XRANGE = [[3.01, 4.1], [3.01, 4.01], [3.01, 4.1], [3.01, 4.1]];
const YRANGE = [-17.9, -14.5];
const labelPos = [[107.5,202,102,235],[130,202,126,237],[111.5,202,107.5,235],[109.5,201,101.5,231],[128,201,122,233],[112.5,201,106.5,233],[107.5,200,102.5,236],[101.5,200,92,233],[110.5,190,113.5,228],[103.5,215,97.5,249],[125.5,205,117.5,239],[103.5,195,101.5,234]];
const nameRight = [37.5,46.5,32.5,37.5,36.5,28.5,37.5,46.5,31.5,37.5,50.5,37.5];
// legend layout: [icon x start, text x]
const legendSlots = [[85,141],[339,393],[598,656],[892,949],[1101,1158]];

const KUR = '#c290c8', KOE = '#3cc8c8', COMP = '#000000', MODC = '#0000ff', OBSC = '#ff2200', TAB = '#1f77b4';
const FONT = 'DejaVu Sans';

const panelData = [
  {kur:kur15,koe:koe15,comp:comp15,obs:obs15,err:err15,mod:mod15,res:res15,resm:resm15,rerr:rerr15,rerrm:rerrm15,f:filtA},
  {kur:kur16,koe:koe16,comp:comp16,obs:obs16,err:err16,mod:mod16,res:res16,resm:resm16,rerr:rerr16,rerrm:rerrm16,f:filtA},
  {kur:kur17,koe:koe17,comp:comp17,obs:obs17,err:err17,mod:mod17,res:res17,resm:resm17,f:filtA},
  {kur:kur18,koe:koe18,comp:comp18,obs:obs18,err:err18,mod:mod18,res:res18,resm:resm18,f:filtA},
  {kur:kur19,koe:koe19,comp:comp19,obs:obs19,err:err19,mod:mod19,res:res19,resm:resm19,f:filtA},
  {kur:kur20,koe:koe20,comp:comp20,obs:obs20,err:err20,mod:mod20,res:res20,resm:resm20,f:filtA},
  {kur:kur21,koe:koe21,comp:comp21,obs:obs21,err:err21,mod:mod21,res:res21,resm:resm21,f:filtA},
  {kur:kur22,koe:koe22,comp:comp22,obs:obs22,err:err22,mod:mod22,res:res22,resm:resm22,f:filtA},
  {kur:kur23,koe:koe23,comp:comp23,obs:obs23,err:err23,mod:mod23,res:res23,resm:resm23,rerr:rerr23,f:filtA},
  {kur:kur24,koe:koe24,comp:comp24,obs:obs24,err:err24,mod:mod24,res:res24,resm:resm24,f:filtB},
  {kur:kur25,koe:koe25,comp:comp25,obs:obs25,err:err25,mod:mod25,res:res25,resm:resm25,f:filtB},
  {kur:kur26,koe:koe26,comp:comp26,obs:obs26,err:err26,mod:mod26,res:res26,resm:resm26,f:filtB}
];

// ---------------- BUILD ----------------
function steps(min, max, step) {
  const out = [];
  for (let k = Math.ceil(min / step - 1e-9); k * step <= max + 1e-9; k++) out.push(+(k * step).toFixed(4));
  return out;
}
const minus = s => String(s).replace('-', '\u2212');

const option = {
  animation: false,
  backgroundColor: '#ffffff',
  textStyle: { fontFamily: FONT },
  grid: [], xAxis: [], yAxis: [], series: [], graphic: []
};

const TICKC = '#111', AXC = '#333';
function addGrid(l, t, w, h) { option.grid.push({ left: l, top: t, width: w, height: h, containLabel: false }); return option.grid.length - 1; }
function addX(g, range, majors, minors, labels, fmt, extra) {
  const base = { type: 'value', gridIndex: g, min: range[0], max: range[1], splitLine: { show: false }, scale: false };
  const i0 = option.xAxis.length;
  option.xAxis.push(Object.assign({}, base, {
    position: 'bottom',
    axisLine: { show: true, onZero: false, lineStyle: { color: AXC, width: 1.5 } },
    axisTick: { show: true, inside: true, length: 9, customValues: majors, lineStyle: { color: TICKC, width: 2.2 } },
    axisLabel: { show: labels, customValues: majors, formatter: fmt, fontSize: 17, color: '#222', margin: 7, fontFamily: FONT }
  }, extra || {}));
  option.xAxis.push(Object.assign({}, base, { position: 'bottom', axisLine: { show: false, onZero: false },
    axisTick: { show: true, inside: true, length: 5, customValues: minors, lineStyle: { color: TICKC, width: 1.8 } }, axisLabel: { show: false } }));
  option.xAxis.push(Object.assign({}, base, { position: 'top', axisLine: { show: true, onZero: false, lineStyle: { color: AXC, width: 1.5 } },
    axisTick: { show: true, inside: true, length: 9, customValues: majors, lineStyle: { color: TICKC, width: 2.2 } }, axisLabel: { show: false } }));
  option.xAxis.push(Object.assign({}, base, { position: 'top', axisLine: { show: false, onZero: false },
    axisTick: { show: true, inside: true, length: 5, customValues: minors, lineStyle: { color: TICKC, width: 1.8 } }, axisLabel: { show: false } }));
  return i0;
}
function addY(g, range, majors, minors, labelSide, fmt, extra) {
  const base = { type: 'value', gridIndex: g, min: range[0], max: range[1], splitLine: { show: false }, scale: false };
  const i0 = option.yAxis.length;
  const lab = side => ({ show: labelSide === side, customValues: majors, formatter: fmt, fontSize: 17, color: '#222', margin: 7, fontFamily: FONT });
  option.yAxis.push(Object.assign({}, base, { position: 'left',
    axisLine: { show: true, onZero: false, lineStyle: { color: AXC, width: 1.5 } },
    axisTick: { show: true, inside: true, length: 9, customValues: majors, lineStyle: { color: TICKC, width: 2.2 } },
    axisLabel: lab('left') }, extra || {}));
  option.yAxis.push(Object.assign({}, base, { position: 'left', axisLine: { show: false, onZero: false },
    axisTick: { show: true, inside: true, length: 5, customValues: minors, lineStyle: { color: TICKC, width: 1.8 } }, axisLabel: { show: false } }));
  option.yAxis.push(Object.assign({}, base, { position: 'right', axisLine: { show: true, onZero: false, lineStyle: { color: AXC, width: 1.5 } },
    axisTick: { show: true, inside: true, length: 9, customValues: majors, lineStyle: { color: TICKC, width: 2.2 } },
    axisLabel: lab('right') }));
  option.yAxis.push(Object.assign({}, base, { position: 'right', axisLine: { show: false, onZero: false },
    axisTick: { show: true, inside: true, length: 5, customValues: minors, lineStyle: { color: TICKC, width: 1.8 } }, axisLabel: { show: false } }));
  return i0;
}
function errSeries(xi, yi, data, color, width, cap, z) {
  return {
    type: 'custom', xAxisIndex: xi, yAxisIndex: yi, data: data, clip: true, silent: true, z: z,
    encode: { x: 0, y: 1 },
    renderItem: function (params, api) {
      const x = api.value(0), y = api.value(1), e = api.value(2);
      if (!e) return null;
      const a = api.coord([x, y - e]), b = api.coord([x, y + e]);
      const st = { stroke: color, lineWidth: width };
      return { type: 'group', children: [
        { type: 'line', shape: { x1: a[0], y1: a[1], x2: b[0], y2: b[1] }, style: st },
        { type: 'line', shape: { x1: a[0] - cap, y1: a[1], x2: a[0] + cap, y2: a[1] }, style: st },
        { type: 'line', shape: { x1: b[0] - cap, y1: b[1], x2: b[0] + cap, y2: b[1] }, style: st }
      ] };
    }
  };
}

const yMinorMain = steps(YRANGE[0], YRANGE[1], 0.1);
const fmtMain = v => minus(Number(v).toFixed(1));

panelData.forEach((P, i) => {
  const r = Math.floor(i / 3), c = i % 3;
  const left = COLL[c], top = ROWT[r];
  const gm = addGrid(left, top, COLW, ROWH[r]);
  const gr = addGrid(left, top + ROWH[r], COLW, RESH[r]);
  const majX = r === 1 ? xMajorB : xMajorA;
  const minX = steps(3.05, r === 1 ? 3.951 : 4.051, 0.05);
  const fmtX = r === 1 ? (v => Number(v).toFixed(1)) : (v => Number(v).toFixed(2));
  const xm = addX(gm, XRANGE[r], majX, minX, false, fmtX);
  const xr = addX(gr, XRANGE[r], majX, minX, true, fmtX, i === 10 ? {
    name: 'log\u2081\u2080(\u03bb[\u00c5])', nameLocation: 'middle', nameGap: 38,
    nameTextStyle: { fontSize: 27, color: '#222', fontFamily: FONT } } : null);
  const ym = addY(gm, YRANGE, yMajorMain, yMinorMain, c === 0 ? 'left' : null, fmtMain, c === 0 ? {
    name: 'log\u2081\u2080(Flux[erg s\u207b\u00b9 cm\u207b\u00b2 \u00c5\u207b\u00b9])', nameLocation: 'middle', nameGap: 82, nameRotate: 90,
    nameTextStyle: { fontSize: 17, color: '#222', fontFamily: FONT } } : null);
  const dec = residDecimals[i];
  const fmtR = v => minus(Number(v).toFixed(dec));
  const side = c === 0 ? 'left' : (c === 2 ? 'right' : null);
  const yr = addY(gr, residRange[i], residMajor[i], steps(residRange[i][0], residRange[i][1], residMinorStep[i]), side, fmtR, c === 0 ? {
    name: '\u0394F/F', nameLocation: 'middle', nameGap: 46, nameRotate: 90,
    nameTextStyle: { fontSize: 22, color: '#222', fontFamily: FONT } } : null);

  // main panel series
  option.series.push({ type: 'line', name: 'Kurucz_Spectra', xAxisIndex: xm, yAxisIndex: ym, data: P.kur, symbol: 'none', clip: true, silent: true, z: 2,
    lineStyle: { color: KUR, width: 1.3 }, itemStyle: { color: KUR } });
  option.series.push({ type: 'line', name: 'Koester_Spectra', xAxisIndex: xm, yAxisIndex: ym, data: P.koe, symbol: 'none', clip: true, silent: true, z: 2,
    lineStyle: { color: KOE, width: 1.3 }, itemStyle: { color: KOE } });
  option.series.push({ type: 'line', name: 'Composite_Spectra', xAxisIndex: xm, yAxisIndex: ym, data: P.comp, symbol: 'none', clip: true, silent: true, z: 3,
    lineStyle: { color: COMP, width: 1.3, opacity: 0.82 }, itemStyle: { color: COMP } });
  option.series.push({ type: 'scatter', name: 'model_flux', xAxisIndex: xm, yAxisIndex: ym, data: P.f.map((x, k) => [x, P.mod[k]]),
    symbol: 'circle', symbolSize: 9, itemStyle: { color: MODC }, silent: true, z: 4 });
  option.series.push(errSeries(xm, ym, P.f.map((x, k) => [x, P.obs[k], P.err[k]]), '#111', 1.6, 4, 5));
  option.series.push({ type: 'scatter', name: 'Observed_flux', xAxisIndex: xm, yAxisIndex: ym, data: P.f.map((x, k) => [x, P.obs[k]]),
    symbol: 'diamond', symbolSize: [9, 13], itemStyle: { color: OBSC }, silent: true, z: 6 });

  // residual series
  const blue = r < 2 ? TAB : MODC;
  option.series.push({ type: 'scatter', name: 'resid_model', xAxisIndex: xr, yAxisIndex: yr, data: P.f.map((x, k) => [x, P.resm[k]]),
    symbol: 'circle', symbolSize: 10, itemStyle: { color: blue }, silent: true, z: 4, clip: true,
    markLine: { silent: true, symbol: ['none', 'none'], label: { show: false }, animation: false,
      data: refLevels.map(v => ({ yAxis: v, lineStyle: v === 0 ? { color: '#111', type: [6, 4], width: 1.6 } : { color: '#777', type: [4, 3], width: 1 } })) } });
  if (P.rerrm) option.series.push(errSeries(xr, yr, P.f.map((x, k) => [x, P.resm[k], P.rerrm[k]]), blue, 1.6, 0, 5));
  if (P.rerr) option.series.push(errSeries(xr, yr, P.f.map((x, k) => [x, P.res[k], P.rerr[k]]), '#ff0000', 1.6, 0, 5));
  option.series.push({ type: 'scatter', name: 'resid_obs', xAxisIndex: xr, yAxisIndex: yr, data: P.f.map((x, k) => [x, P.res[k]]),
    symbol: 'circle', symbolSize: 10, itemStyle: { color: '#ff0000' }, silent: true, z: 6, clip: true });

  // texts
  option.graphic.push({ type: 'text', silent: true, z: 10, x: left + COLW - nameRight[i], y: top + 29.5,
    style: { text: starNames[i], fontSize: 21, fontFamily: FONT, fill: '#222', align: 'right', verticalAlign: 'middle' } });
  const fs = i === 9 ? 20 : 24;
  const lp = labelPos[i];
  [[lp[0], lp[1], 'A', teffAText[i]], [lp[2], lp[3], 'B', teffBText[i]]].forEach(t => {
    option.graphic.push({ type: 'group', x: left + t[0], y: top + t[1], silent: true, z: 10, children: [
      { type: 'text', x: 0, y: 0, style: { text: 'T', fontSize: fs, fontFamily: FONT, fill: '#222', verticalAlign: 'middle' } },
      { type: 'text', x: fs * 0.6, y: -fs * 0.33, style: { text: t[2], fontSize: fs * 0.62, fontStyle: 'italic', fontFamily: FONT, fill: '#222', verticalAlign: 'middle' } },
      { type: 'text', x: fs * 0.56, y: fs * 0.4, style: { text: 'eff', fontSize: fs * 0.62, fontStyle: 'italic', fontFamily: FONT, fill: '#222', verticalAlign: 'middle' } },
      { type: 'text', x: fs * 0.56 + fs * 0.62 * 1.32, y: 0, style: { text: t[3], fontSize: fs, fontFamily: FONT, fill: '#222', verticalAlign: 'middle' } }
    ] });
  });
});

// ---------------- LEGEND (drawn as graphic for exact matplotlib look) ----------------
const LY = 21.5;
const legendChildren = [
  { type: 'rect', shape: { x: 77, y: 4.5, width: 1233, height: 34, r: 5 }, style: { fill: 'rgba(255,255,255,0.92)', stroke: '#d2d2d2', lineWidth: 1.2 } }
];
const lineColors = [KUR, KOE, COMP];
legendNames.forEach((nm, k) => {
  const s = legendSlots[k];
  if (k < 3) {
    legendChildren.push({ type: 'line', shape: { x1: s[0], y1: LY, x2: s[0] + 40, y2: LY }, style: { stroke: lineColors[k], lineWidth: 1.6, opacity: k === 0 ? 0.6 : (k === 1 ? 0.75 : 1) } });
  } else if (k === 3) {
    legendChildren.push({ type: 'circle', shape: { cx: s[0] + 20, cy: LY, r: 4.5 }, style: { fill: MODC } });
  } else {
    const cx = s[0] + 20;
    legendChildren.push({ type: 'line', shape: { x1: cx, y1: LY - 11, x2: cx, y2: LY + 11 }, style: { stroke: '#111', lineWidth: 1.6 } });
    legendChildren.push({ type: 'line', shape: { x1: cx - 4, y1: LY - 11, x2: cx + 4, y2: LY - 11 }, style: { stroke: '#111', lineWidth: 1.6 } });
    legendChildren.push({ type: 'line', shape: { x1: cx - 4, y1: LY + 11, x2: cx + 4, y2: LY + 11 }, style: { stroke: '#111', lineWidth: 1.6 } });
    legendChildren.push({ type: 'polygon', shape: { points: [[cx, LY - 7], [cx + 4.5, LY], [cx, LY + 7], [cx - 4.5, LY]] }, style: { fill: OBSC } });
  }
  legendChildren.push({ type: 'text', x: s[1], y: LY, style: { text: nm, fontSize: 19, fontFamily: FONT, fill: '#222', verticalAlign: 'middle' } });
});
option.graphic.push({ type: 'group', z: 50, zlevel: 0, silent: true, children: legendChildren });

const chart = echarts.init(document.getElementById('c'), null, { renderer: 'canvas' });
chart.setOption(option);
</script>
</body></html>
